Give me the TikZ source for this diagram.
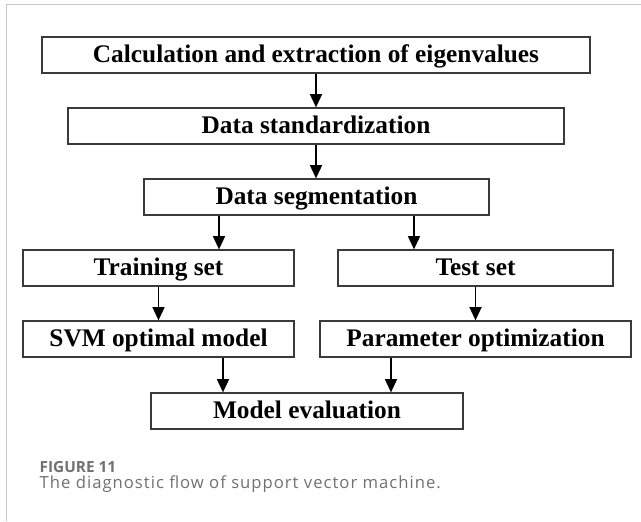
\documentclass[tikz,border=0pt]{standalone}
\usepackage{fontspec}
\setmainfont{Liberation Serif}
\newfontfamily\capfont{Open Sans}
\newfontfamily\capspaced[LetterSpace=6]{Open Sans}
\usetikzlibrary{arrows.meta}
\definecolor{framegray}{HTML}{C8C8C8}
\definecolor{capgray}{HTML}{707070}
\definecolor{boxgray}{HTML}{3A3A3A}
\begin{document}
\begin{tikzpicture}[x=.75pt,y=-.75pt,>={Triangle[width=9pt,length=10pt]},line width=1.1pt,
  stepbox/.style={draw=boxgray,line width=.9pt,minimum height=27pt,inner sep=0pt,
    text height=14pt,text depth=3.5pt,font=\fontsize{19}{22}\selectfont\bfseries},
  flow/.style={->,line width=1.3pt},
  captext/.style={anchor=base west,inner sep=0pt,text=capgray}]
  \useasboundingbox (0,0) rectangle (641,521);
  % frame
  \draw[framegray] (6.7,521) -- (6.7,4.3) -- (641,4.3);
  % boxes
  \node[stepbox,minimum width=411pt] (calc) at (316,55) {Calculation and extraction of eigenvalues};
  \node[stepbox,minimum width=372pt] (std) at (316,126) {Data standardization};
  \node[stepbox,minimum width=258.75pt] (seg) at (316.5,197) {Data segmentation};
  \node[stepbox,minimum width=203.25pt] (train) at (158.5,268) {Training set};
  \node[stepbox,minimum width=206.25pt] (test) at (475.5,268) {Test set};
  \node[stepbox,minimum width=203.25pt] (svm) at (158.5,339) {SVM optimal model};
  \node[stepbox,minimum width=233.25pt] (param) at (475.5,339) {Parameter optimization};
  \node[stepbox,minimum width=234pt] (eval) at (307,411) {Model evaluation};
  % arrows
  \coordinate (tr) at (219,0); \coordinate (te) at (414,0);
  \coordinate (sv) at (223,0); \coordinate (pa) at (391,0);
  \draw[flow] (calc.south) -- (std.north);
  \draw[flow] (std.south) -- (std.south |- seg.north);
  \draw[flow] (seg.south -| tr) -- (train.north -| tr);
  \draw[flow] (seg.south -| te) -- (test.north -| te);
  \draw[flow] (train.south) -- (svm.north);
  \draw[flow] (test.south) -- (param.north);
  \draw[flow] (svm.south -| sv) -- (eval.north -| sv);
  \draw[flow] (param.south -| pa) -- (eval.north -| pa);
  % caption
  \node[captext,font=\capfont\fontsize{11.5}{13}\selectfont\bfseries] (fig) at (39,472.5) {FIGURE 11};
  \node[captext,font=\capspaced\fontsize{12.5}{15}\selectfont] (cap) at (39,488) {The diagnostic flow of support vector machine.};
\end{tikzpicture}
\end{document}
